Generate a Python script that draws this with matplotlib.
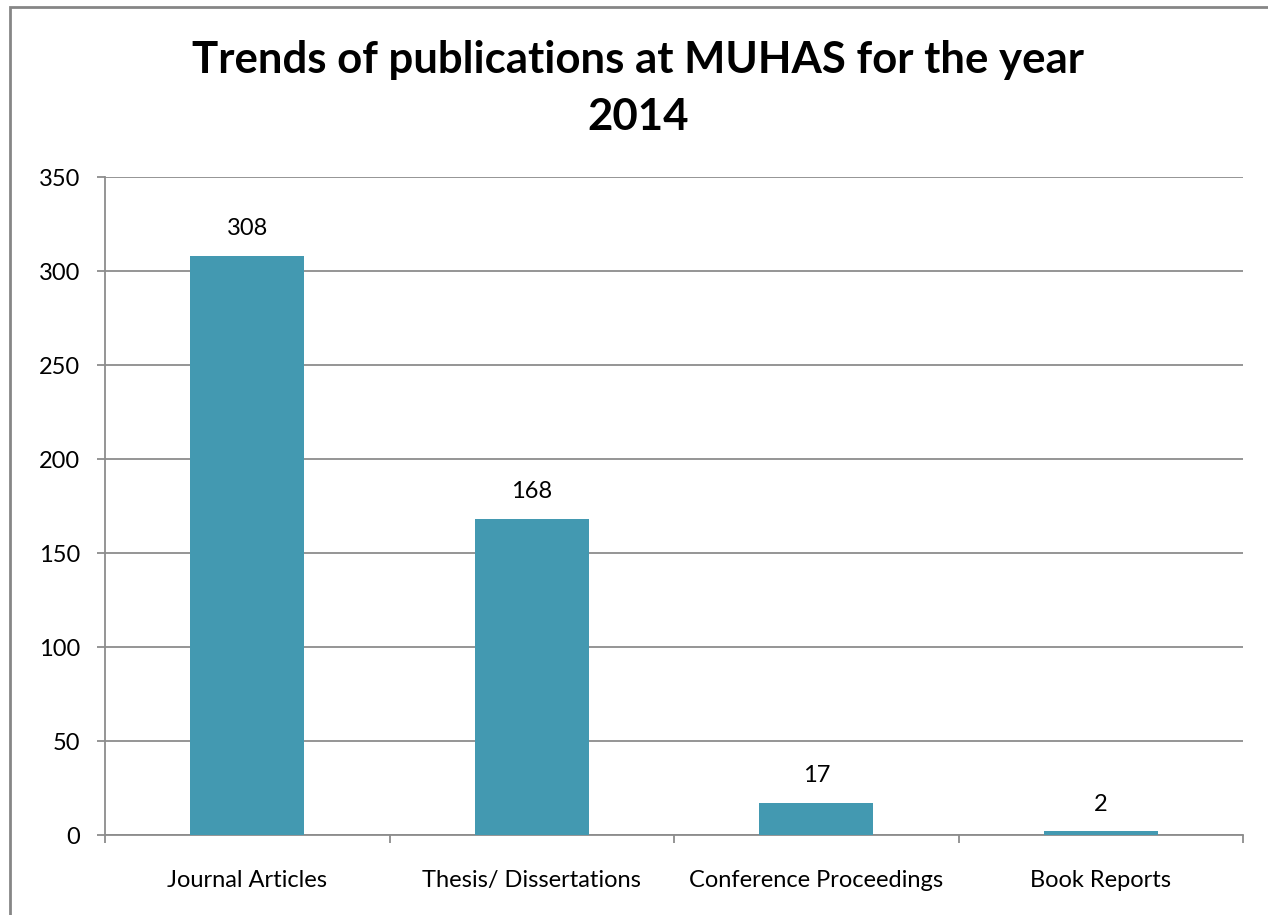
import matplotlib
matplotlib.use('Agg')
import matplotlib.pyplot as plt
from matplotlib.patches import Rectangle

plt.rcParams['font.family'] = ['Lato', 'DejaVu Sans']

categories = ['Journal Articles', 'Thesis/ Dissertations', 'Conference Proceedings', 'Book Reports']
counts = [308, 168, 17, 2]
title = 'Trends of publications at MUHAS for the year\n2014'

bar_color = '#4399b1'
grid_color = '#8c8c8c'

fig = plt.figure(figsize=(12.68, 9.15), dpi=100)
ax = fig.add_axes([105 / 1268, 80 / 915, 1138 / 1268, 658 / 915])

x = list(range(len(categories)))
bars = ax.bar(x, counts, width=0.4, color=bar_color, zorder=3)
for rect, v in zip(bars, counts):
    ax.annotate(str(v), (rect.get_x() + rect.get_width() / 2, v),
                xytext=(0, 12), textcoords='offset points',
                ha='center', va='bottom', fontsize=17, color='black')

ax.set_xlim(-0.5, len(categories) - 0.5)
ax.set_ylim(0, 350)
ax.set_yticks(range(0, 351, 50))
ax.set_xticks(x)
ax.set_xticklabels(categories, fontsize=17)
ax.set_xticks([i - 0.5 for i in range(len(categories) + 1)], minor=True)
ax.tick_params(axis='x', which='major', length=0, pad=25)
ax.tick_params(axis='x', which='minor', length=6, width=1.3, color=grid_color)
ax.tick_params(axis='y', length=6, width=1.3, color=grid_color, labelsize=17, pad=12)

ax.grid(axis='y', color=grid_color, linewidth=1.3, zorder=0)
for s in ['top', 'right']:
    ax.spines[s].set_visible(False)
for s in ['left', 'bottom']:
    ax.spines[s].set_color(grid_color)
    ax.spines[s].set_linewidth(1.3)

fig.text(638 / 1268, 1 - 130 / 915, title, ha='center', va='baseline',
         fontsize=31.5, fontweight='bold', linespacing=1.5)

fig.patches.append(Rectangle((10 / 1268, -0.1), 1.2, 1.1 - 7 / 915,
                             transform=fig.transFigure, fill=False,
                             edgecolor='#868686', linewidth=2))

fig.savefig('out.png', dpi=100)
